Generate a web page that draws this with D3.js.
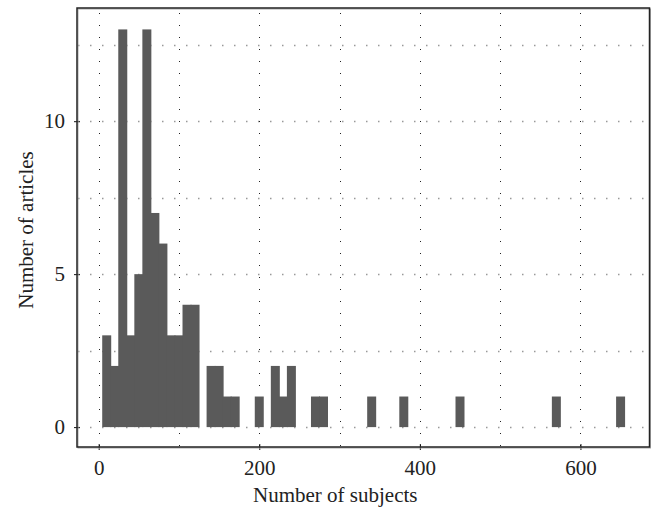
<!doctype html>
<html lang="en">
    <head>
        <meta charset="utf-8">
        <title>Number of subjects per article</title>
        <script src="https://d3js.org/d3.v7.min.js"></script>
        <style>
            body { margin: 0; background: #fff; }
            svg text { font-family: "Liberation Serif", "Times New Roman", serif; fill: #222; }
        </style>
    </head>
    <body>
        <div id="chart"></div>
        <script>
            // bin centres (number of subjects) and article counts
            var subjectBins = [10, 20, 30, 40, 50, 60, 70, 80, 90, 100, 110, 120, 140, 150, 160, 170,
                               200, 220, 230, 240, 270, 280, 340, 380, 450, 570, 650];
            var articleCounts = [3, 2, 13, 3, 5, 13, 7, 6, 3, 3, 4, 4, 2, 2, 1, 1,
                                 1, 2, 1, 2, 1, 1, 1, 1, 1, 1, 1];
            var xTicks = [0, 200, 400, 600];
            var yTicks = [0, 5, 10];
            var xGrid = [0, 100, 200, 300, 400, 500, 600];
            var yGrid = [0, 2.5, 5, 7.5, 10, 12.5];

            var width = 653, height = 510;
            var plotLeft = 77, plotRight = 649.5, plotTop = 8, plotBottom = 447;

            var svg = d3.select("#chart").append("svg")
                .attr("width", width)
                .attr("height", height);

            var x = d3.scaleLinear().domain([-27, 686]).range([plotLeft, plotRight]);
            var y = d3.scaleLinear().domain([-0.65, 13.7]).range([plotBottom, plotTop]);

            // dotted grid
            svg.append("g").selectAll("line")
                .data(yGrid).enter().append("line")
                .attr("x1", plotLeft + 1).attr("x2", plotRight)
                .attr("y1", function(d) { return Math.round(y(d)) + 0.5; })
                .attr("y2", function(d) { return Math.round(y(d)) + 0.5; })
                .attr("stroke", "#999").attr("stroke-width", 1.5)
                .attr("stroke-dasharray", "1.5,10.5");

            svg.append("g").selectAll("line")
                .data(xGrid).enter().append("line")
                .attr("x1", function(d) { return Math.round(x(d)) + 0.5; })
                .attr("x2", function(d) { return Math.round(x(d)) + 0.5; })
                .attr("y1", plotTop + 5).attr("y2", plotBottom)
                .attr("stroke", "#222").attr("stroke-width", 1)
                .attr("stroke-dasharray", "1,11");

            // bars
            var barW = x(11.2) - x(0);
            svg.append("g").selectAll("rect")
                .data(subjectBins).enter().append("rect")
                .attr("x", function(d) { return x(d) - barW / 2; })
                .attr("width", barW)
                .attr("y", function(d, i) { return y(articleCounts[i]); })
                .attr("height", function(d, i) { return y(0) - y(articleCounts[i]); })
                .attr("fill", "#5a5a5a");

            // axes
            var xAxis = svg.append("g")
                .attr("transform", "translate(0," + plotBottom + ")")
                .call(d3.axisBottom(x).tickValues(xTicks).tickSize(3).tickPadding(10));
            var yAxis = svg.append("g")
                .attr("transform", "translate(" + plotLeft + ",0)")
                .call(d3.axisLeft(y).tickValues(yTicks).tickSize(3).tickPadding(9));

            xAxis.select(".domain").remove();
            yAxis.select(".domain").remove();
            xAxis.selectAll(".tick line").attr("y1", -3).attr("y2", 3).attr("stroke", "#111");
            yAxis.selectAll(".tick line").attr("x1", -3).attr("x2", 3).attr("stroke", "#111");
            xAxis.selectAll("text").attr("font-size", 21).attr("font-family", null);
            yAxis.selectAll("text").attr("font-size", 21).attr("font-family", null);

            // frame
            svg.append("rect")
                .attr("x", plotLeft + 1).attr("y", plotTop + 1)
                .attr("width", plotRight - plotLeft).attr("height", plotBottom - plotTop)
                .attr("fill", "none").attr("stroke", "#aaa").attr("stroke-width", 1);
            svg.append("rect")
                .attr("x", plotLeft).attr("y", plotTop)
                .attr("width", plotRight - plotLeft).attr("height", plotBottom - plotTop)
                .attr("fill", "none").attr("stroke", "#222").attr("stroke-width", 1.5);

            // titles
            svg.append("text")
                .attr("x", (plotLeft + plotRight) / 2 - 28).attr("y", 502)
                .attr("text-anchor", "middle")
                .attr("font-size", 21)
                .text("Number of subjects");

            svg.append("text")
                .attr("transform", "translate(33," + 230 + ") rotate(-90)")
                .attr("text-anchor", "middle")
                .attr("font-size", 21)
                .text("Number of articles");
        </script>
    </body>
</html>
